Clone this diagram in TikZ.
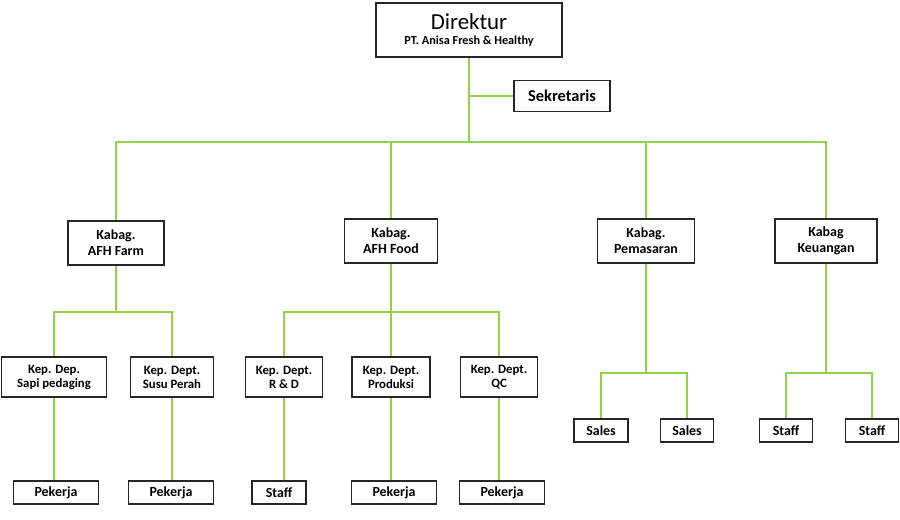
\documentclass[tikz,border=0pt]{standalone}
\usepackage{fontspec}
\setmainfont{Carlito}
\definecolor{OrgGreen}{HTML}{92D050}
\definecolor{OrgLine}{HTML}{262626}
\usetikzlibrary{positioning, calc}

\begin{document}
\begin{tikzpicture}[x=1bp, y=-1bp,
    unit/.style={draw=OrgLine, line width=1.3bp, fill=white, inner sep=0pt,
                 align=center, font=\bfseries\fontsize{14}{16}\selectfont},
    dept/.style={unit, font=\bfseries\fontsize{12.8}{14}\selectfont},
    leaf/.style={unit, minimum height=23bp, font=\bfseries\fontsize{14}{15}\selectfont},
    link/.style={draw=OrgGreen, line width=1.8bp}]
  \useasboundingbox[fill=white] (0,0) rectangle (900,520);

  % Top level
  \node[unit, minimum width=186bp, minimum height=54bp, font=\fontsize{23}{17}\selectfont]
    (dir) at (469,30) {Direktur\\[-1pt]{\bfseries\fontsize{12.3}{14}\selectfont PT. Anisa Fresh \& Healthy}};
  \node[unit, minimum width=96bp, minimum height=31bp, font=\bfseries\fontsize{16.5}{18}\selectfont]
    (sek) at (562,96) {Sekretaris};

  % Kepala bagian
  \node[unit, minimum width=96bp, minimum height=44bp] (farm) at (116,243) {Kabag.\\AFH Farm};
  \node[unit, minimum width=93bp, minimum height=44bp] (food) at (391,241) {Kabag.\\AFH Food};
  \node[unit, minimum width=97bp, minimum height=44bp] (pem) at (646,241) {Kabag.\\Pemasaran};
  \node[unit, minimum width=102bp, minimum height=44bp] (keu) at (826,241) {Kabag\\Keuangan};

  % Kepala departemen
  \node[dept, minimum width=105bp, minimum height=40bp] (sapi) at (54,377) {Kep. Dep.\\Sapi pedaging};
  \node[dept, minimum width=83bp, minimum height=40bp] (susu) at (172,377) {Kep. Dept.\\Susu Perah};
  \node[dept, minimum width=77bp, minimum height=40bp] (rd) at (284,377) {Kep. Dept.\\R \& D};
  \node[dept, minimum width=78bp, minimum height=40bp] (prod) at (391,377) {Kep. Dept.\\Produksi};
  \node[dept, minimum width=77bp, minimum height=40bp] (qc) at (499,377) {Kep. Dept.\\QC};

  % Bottom row
  \node[leaf, minimum width=85bp] (pek1) at (56,492.5) {Pekerja};
  \node[leaf, minimum width=85bp] (pek2) at (171,492.5) {Pekerja};
  \node[leaf, minimum width=54bp] (staff1) at (279,492.5) {Staff};
  \node[leaf, minimum width=85bp] (pek3) at (394,492.5) {Pekerja};
  \node[leaf, minimum width=85bp] (pek4) at (502,492.5) {Pekerja};
  \node[leaf, minimum width=54bp] (sales1) at (601,430.5) {Sales};
  \node[leaf, minimum width=53bp] (sales2) at (687,430.5) {Sales};
  \node[leaf, minimum width=53bp] (staff2) at (786,430.5) {Staff};
  \node[leaf, minimum width=53bp] (staff3) at (872,430.5) {Staff};

  % Connectors
  \coordinate (top) at (469,142);
  \coordinate (farmbus) at (116,312);
  \coordinate (foodbus) at (391,312);
  \coordinate (pembus) at (646,373);
  \coordinate (keubus) at (826,373);

  \draw[link] (dir.south) -- (top);
  \draw[link] (sek.west) -- (sek.west -| dir.south);
  \draw[link] (farm.north) |- (top) -| (keu.north);
  \draw[link] (food.north) -- (food.north |- top);
  \draw[link] (pem.north) -- (pem.north |- top);

  \draw[link] (farm.south) -- (farmbus);
  \draw[link] (sapi.north) |- (farmbus) -| (susu.north);
  \draw[link] (food.south) -- (food.south |- prod.north);
  \draw[link] (rd.north) |- (foodbus) -| (qc.north);
  \draw[link] (pem.south) -- (pembus);
  \draw[link] (sales1.north) |- (pembus) -| (sales2.north);
  \draw[link] (keu.south) -- (keubus);
  \draw[link] (staff2.north) |- (keubus) -| (staff3.north);

  \foreach \a/\b in {sapi/pek1, susu/pek2, rd/staff1, prod/pek3, qc/pek4}
    \draw[link] (\a.south) -- (\a.south |- \b.north);
\end{tikzpicture}
\end{document}
